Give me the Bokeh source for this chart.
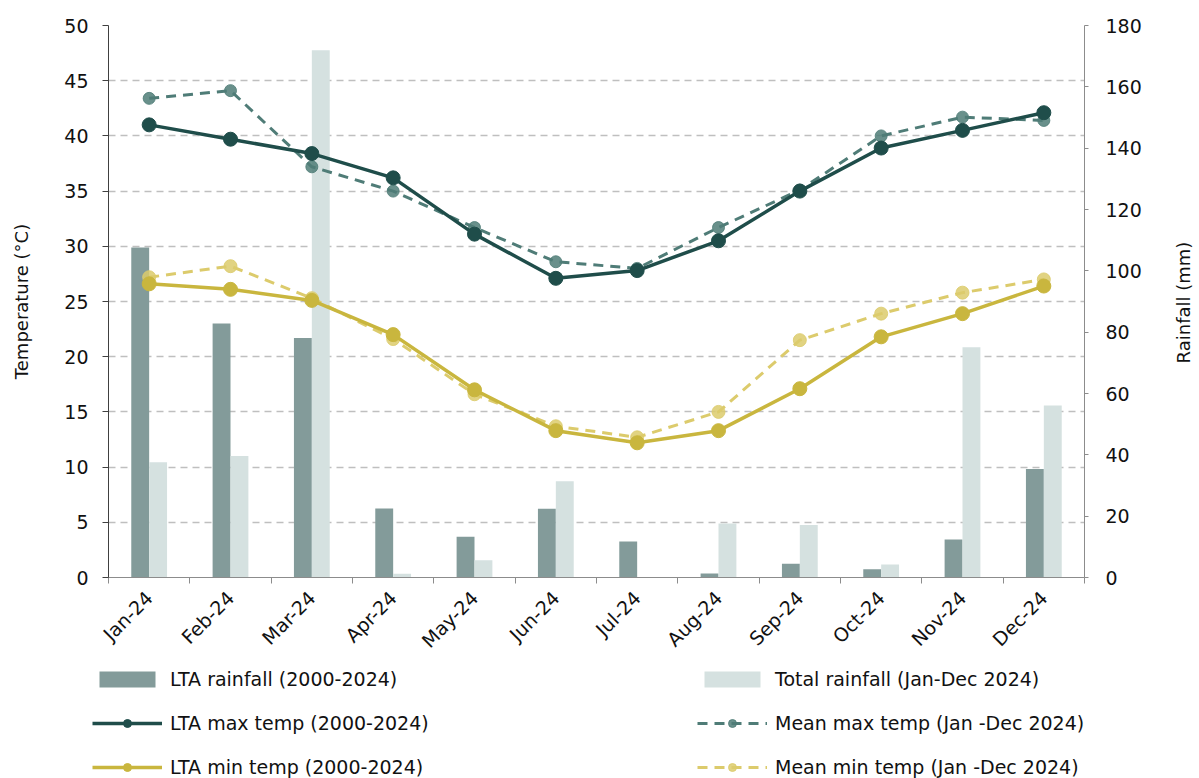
from math import pi
from bokeh.plotting import figure
from bokeh.layouts import column, row
from bokeh.models import (FactorRange, Range1d, LinearAxis, CategoricalAxis, FixedTicker,
                          Legend, LegendItem, SingleIntervalTicker, ColumnDataSource,
                          CustomJSTickFormatter, Label)
from bokeh.transform import dodge
from bokeh.embed import file_html
from bokeh.resources import INLINE

months = ["Jan-24", "Feb-24", "Mar-24", "Apr-24", "May-24", "Jun-24",
          "Jul-24", "Aug-24", "Sep-24", "Oct-24", "Nov-24", "Dec-24"]
lta_rain = [107.6, 82.8, 78.1, 22.5, 13.3, 22.4, 11.7, 1.3, 4.5, 2.7, 12.4, 35.4]
total_rain = [37.6, 39.6, 171.9, 1.2, 5.6, 31.4, 0.0, 17.6, 17.1, 4.2, 75.1, 56.1]
lta_max = [41.0, 39.7, 38.4, 36.2, 31.1, 27.1, 27.8, 30.5, 35.0, 38.9, 40.5, 42.1]
mean_max = [43.4, 44.1, 37.2, 35.0, 31.7, 28.6, 28.0, 31.7, 35.1, 40.0, 41.7, 41.4]
lta_min = [26.6, 26.1, 25.1, 22.0, 17.0, 13.3, 12.2, 13.3, 17.1, 21.8, 23.9, 26.4]
mean_min = [27.2, 28.2, 25.3, 21.6, 16.6, 13.7, 12.7, 15.0, 21.5, 23.9, 25.8, 27.0]

FONT = "DejaVu Sans"
C_LTA_BAR = "#839B9A"
C_TOT_BAR = "#D5E1E0"
C_MAX = "#1F4D4A"
C_MAX_D = "#4F7C77"
C_MIN = "#C9B63E"
C_MIN_D = "#DCCB6C"
TXT = "#111111"

STY = {
    "lta_bar": dict(fill_color=C_LTA_BAR, line_color=None),
    "tot_bar": dict(fill_color=C_TOT_BAR, line_color=None),
    "mmax_line": dict(line_color=C_MAX_D, line_width=3, line_dash="10 7"),
    "mmax_pt": dict(size=12, fill_color=C_MAX_D, line_color=C_MAX_D, fill_alpha=0.85, line_alpha=0.85),
    "mmin_line": dict(line_color=C_MIN_D, line_width=3, line_dash="10 7"),
    "mmin_pt": dict(size=13, fill_color=C_MIN_D, line_color=C_MIN_D, fill_alpha=0.85, line_alpha=0.85),
    "lmax_line": dict(line_color=C_MAX, line_width=3.5),
    "lmax_pt": dict(size=14, fill_color=C_MAX, line_color=C_MAX),
    "lmin_line": dict(line_color=C_MIN, line_width=3.5),
    "lmin_pt": dict(size=14, fill_color=C_MIN, line_color=C_MIN),
}

src = ColumnDataSource(dict(month=months, lta_rain=lta_rain, total_rain=total_rain,
                            lta_max=lta_max, mean_max=mean_max,
                            lta_min=lta_min, mean_min=mean_min))

MAIN_W, MAIN_H = 1160, 662
p = figure(width=MAIN_W, height=MAIN_H,
           x_range=FactorRange(factors=months, range_padding=0),
           y_range=Range1d(0, 50),
           output_backend="svg", toolbar_location=None,
           x_axis_location=None,
           min_border_left=108, min_border_right=76,
           min_border_top=25, min_border_bottom=82)
p.outline_line_color = None
p.background_fill_color = "white"
p.border_fill_color = "white"

p.extra_y_ranges = {"rain": Range1d(0, 180)}

# left axis
ya = p.yaxis[0]
ya.ticker = SingleIntervalTicker(interval=5, num_minor_ticks=0)
ya.axis_label = "Temperature (°C)"
ya.axis_label_text_font = FONT
ya.axis_label_text_font_size = "18px"
ya.axis_label_text_font_style = "normal"
ya.axis_label_text_color = TXT
ya.axis_label_standoff = 29
ya.major_label_text_font = FONT
ya.major_label_text_font_size = "19px"
ya.major_label_text_color = TXT
ya.major_label_standoff = 14
ya.major_tick_out = 6
ya.major_tick_in = 0
ya.minor_tick_line_color = None
ya.axis_line_color = "#404040"
ya.major_tick_line_color = "#404040"

# right axis (its title is drawn in the strip to the right, reading upwards)
ra = LinearAxis(y_range_name="rain",
                ticker=SingleIntervalTicker(interval=20, num_minor_ticks=0))
ra.major_label_text_font = FONT
ra.major_label_text_font_size = "19px"
ra.major_label_text_color = TXT
ra.major_label_standoff = 17
ra.major_tick_out = 4
ra.major_tick_in = 0
ra.minor_tick_line_color = None
ra.axis_line_color = "#8C8C8C"
ra.major_tick_line_color = "#8C8C8C"
p.add_layout(ra, "right")

# bottom: boundary ticks axis (between categories)
ba = LinearAxis(ticker=FixedTicker(ticks=list(range(len(months) + 1))),
                formatter=CustomJSTickFormatter(code="return ''"))
ba.major_tick_out = 6
ba.major_tick_in = 0
ba.minor_tick_line_color = None
ba.axis_line_color = "#8C8C8C"
ba.major_tick_line_color = "#8C8C8C"
ba.major_label_standoff = 0
p.add_layout(ba, "below")

ca = CategoricalAxis()
ca.axis_line_color = None
ca.major_tick_line_color = None
ca.major_tick_out = 0
ca.major_label_orientation = pi / 4
ca.major_label_text_font = FONT
ca.major_label_text_font_size = "19px"
ca.major_label_text_color = TXT
ca.major_label_standoff = 11
p.add_layout(ca, "below")

# grid
p.ygrid.ticker = SingleIntervalTicker(interval=5, num_minor_ticks=0)
p.ygrid.grid_line_color = "#BFBFBF"
p.ygrid.grid_line_dash = "7 5"
p.ygrid.grid_line_width = 1.5
p.xgrid.grid_line_color = None

# bars
p.vbar(x=dodge("month", -0.11, range=p.x_range), top="lta_rain", width=0.22,
       source=src, y_range_name="rain", **STY["lta_bar"])
p.vbar(x=dodge("month", 0.11, range=p.x_range), top="total_rain", width=0.22,
       source=src, y_range_name="rain", **STY["tot_bar"])

# dashed (2024) lines
p.line("month", "mean_max", source=src, **STY["mmax_line"])
p.scatter("month", "mean_max", source=src, **STY["mmax_pt"])
p.line("month", "mean_min", source=src, **STY["mmin_line"])
p.scatter("month", "mean_min", source=src, **STY["mmin_pt"])

# solid (LTA) lines
p.line("month", "lta_max", source=src, **STY["lmax_line"])
p.scatter("month", "lta_max", source=src, **STY["lmax_pt"])
p.line("month", "lta_min", source=src, **STY["lmin_line"])
p.scatter("month", "lta_min", source=src, **STY["lmin_pt"])

# right strip holding the rainfall axis title, reading bottom-to-top
STRIP_W = 1199 - MAIN_W
rf = figure(width=STRIP_W, height=MAIN_H, x_range=Range1d(0, STRIP_W),
            y_range=Range1d(0, MAIN_H),
            output_backend="svg", toolbar_location=None,
            x_axis_location=None, y_axis_location=None,
            min_border_left=0, min_border_right=0, min_border_top=0, min_border_bottom=0)
rf.frame_align = False
rf.outline_line_color = None
rf.grid.visible = False
rf.add_layout(Label(x=STRIP_W - 16, y=MAIN_H - 302, text="Rainfall (mm)", angle=pi / 2,
                    text_align="center", text_baseline="middle",
                    text_font=FONT, text_font_size="18px", text_color=TXT))

# legend panel (separate figure below; hidden key renderers styled like the series)
lf = figure(width=1199, height=116, x_range=Range1d(0, 1), y_range=Range1d(0, 1),
            output_backend="svg", toolbar_location=None,
            x_axis_location=None, y_axis_location=None,
            min_border_left=0, min_border_right=0, min_border_top=0, min_border_bottom=0)
lf.frame_align = False
lf.outline_line_color = None
lf.grid.visible = False


def key_bar(style):
    return [lf.vbar(x=[0], top=[0], width=0, visible=False, **style)]


def key_line(lstyle, pstyle):
    return [lf.line(x=[0], y=[0], visible=False, **lstyle),
            lf.scatter(x=[0], y=[0], visible=False, **pstyle)]


def make_legend(items, loc):
    lg = Legend(items=items, location=loc, orientation="vertical")
    lg.padding = 0
    lg.margin = 0
    lg.border_line_color = None
    lg.background_fill_alpha = 0
    lg.inactive_fill_alpha = 0
    lg.glyph_width = 70
    lg.glyph_height = 20
    lg.label_height = 22
    lg.spacing = 22
    lg.label_standoff = 8
    lg.label_text_font = FONT
    lg.label_text_font_size = "19px"
    lg.label_text_color = TXT
    return lg


lf.add_layout(make_legend([
    LegendItem(label="LTA rainfall (2000-2024)", renderers=key_bar(STY["lta_bar"])),
    LegendItem(label="LTA max temp (2000-2024)", renderers=key_line(STY["lmax_line"], STY["lmax_pt"])),
    LegendItem(label="LTA min temp (2000-2024)", renderers=key_line(STY["lmin_line"], STY["lmin_pt"])),
], (92, 0)), "center")
lf.add_layout(make_legend([
    LegendItem(label="Total rainfall (Jan-Dec 2024)", renderers=key_bar(STY["tot_bar"])),
    LegendItem(label="Mean max temp (Jan -Dec 2024)", renderers=key_line(STY["mmax_line"], STY["mmax_pt"])),
    LegendItem(label="Mean min temp (Jan -Dec 2024)", renderers=key_line(STY["mmin_line"], STY["mmin_pt"])),
], (697, 0)), "center")

page = column(row(p, rf, spacing=0), lf, spacing=0)
open("out.html", "w").write(file_html(page, INLINE))
